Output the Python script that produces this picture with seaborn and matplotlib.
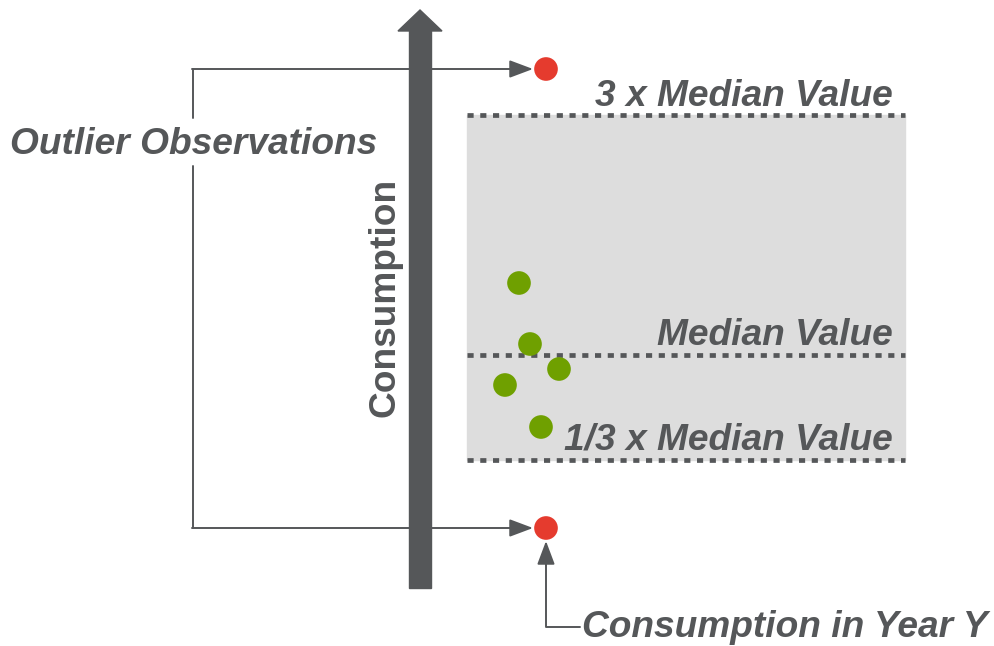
# -*- coding: utf-8 -*-

import numpy as np
import pandas as pd
import matplotlib.pyplot as plt
import seaborn as sns
from matplotlib.patches import Rectangle


# diagram coordinates (pixel-like units, y grows downwards)
GREEN_X = [519, 530, 559, 505, 541]
GREEN_Y = [283, 344, 369, 385, 427]
OUTLIER_X = [546, 546]
OUTLIER_Y = [69, 528]
BAND_LEVELS = [115, 355, 460]
BAND_LABELS = ['3 x Median Value', 'Median Value', '1/3 x Median Value']
BAND_LEFT, BAND_RIGHT = 467, 905

GREY = '#555759'
GREEN = '#6FA000'
RED = '#E53B2E'
FS = 26.7


def main():
    sns.set_theme(style='white')
    plt.rcParams['font.family'] = ['Liberation Sans', 'DejaVu Sans']

    fig = plt.figure(figsize=(9.94, 6.46), dpi=100)
    ax = fig.add_axes([0, 0, 1, 1])

    # grey band between 1/3 x and 3 x median
    ax.add_patch(Rectangle((BAND_LEFT, BAND_LEVELS[0]), BAND_RIGHT - BAND_LEFT,
                           BAND_LEVELS[2] - BAND_LEVELS[0], color='#DDDDDD', zorder=0))
    for lvl in BAND_LEVELS:
        ax.hlines(lvl, BAND_LEFT, BAND_RIGHT, color=GREY, lw=3.4,
                  linestyles=(0, (1.3, 1.4)), zorder=1)
    text_base = [106, 345, 450]
    for b, lab in zip(text_base, BAND_LABELS):
        ax.text(893, b, lab, ha='right', va='baseline', fontsize=FS,
                fontweight='bold', fontstyle='italic', color=GREY)

    # bracket for outliers
    lw = 1.4
    head = '-|>,head_length=1.2,head_width=0.45'
    ax.plot([193, 193], [69, 118], color=GREY, lw=lw, zorder=1)
    ax.plot([193, 193], [166, 528], color=GREY, lw=lw, zorder=1)
    for y in OUTLIER_Y:
        ax.annotate('', xy=(533, y), xytext=(192, y),
                    arrowprops=dict(arrowstyle=head, color=GREY, lw=lw,
                                    shrinkA=0, shrinkB=0), zorder=1)
    ax.text(10, 154, 'Outlier Observations', ha='left', va='baseline', fontsize=FS,
            fontweight='bold', fontstyle='italic', color=GREY)

    # main consumption axis arrow
    ax.add_patch(Rectangle((409, 30), 22, 558, color=GREY, zorder=3))
    ax.add_patch(plt.Polygon([[398, 31], [420, 10], [442, 31]], color=GREY, zorder=3))
    ax.text(395, 297, 'Consumption', rotation=90, ha='center', va='baseline',
            fontsize=FS, fontweight='bold', color=GREY, rotation_mode='anchor')

    # observations
    df = pd.DataFrame({
        'x': GREEN_X + OUTLIER_X,
        'y': GREEN_Y + OUTLIER_Y,
        'kind': ['normal'] * len(GREEN_X) + ['outlier'] * len(OUTLIER_X),
    })
    sns.scatterplot(data=df, x='x', y='y', hue='kind',
                    palette={'normal': GREEN, 'outlier': RED},
                    s=290, edgecolor='none', legend=False, ax=ax, zorder=4)

    # pointer to a single year's consumption
    ax.plot([546, 546, 580], [550, 627, 627], color=GREY, lw=lw, zorder=1)
    ax.annotate('', xy=(546, 541), xytext=(546, 565),
                arrowprops=dict(arrowstyle=head, color=GREY, lw=lw,
                                shrinkA=0, shrinkB=0))
    ax.text(582, 637, 'Consumption in Year Y', ha='left', va='baseline', fontsize=FS,
            fontweight='bold', fontstyle='italic', color=GREY)

    ax.set_xlim(0, 994)
    ax.set_ylim(646, 0)
    ax.axis('off')
    fig.savefig('out.png', dpi=100)


if __name__ == '__main__':
    main()
